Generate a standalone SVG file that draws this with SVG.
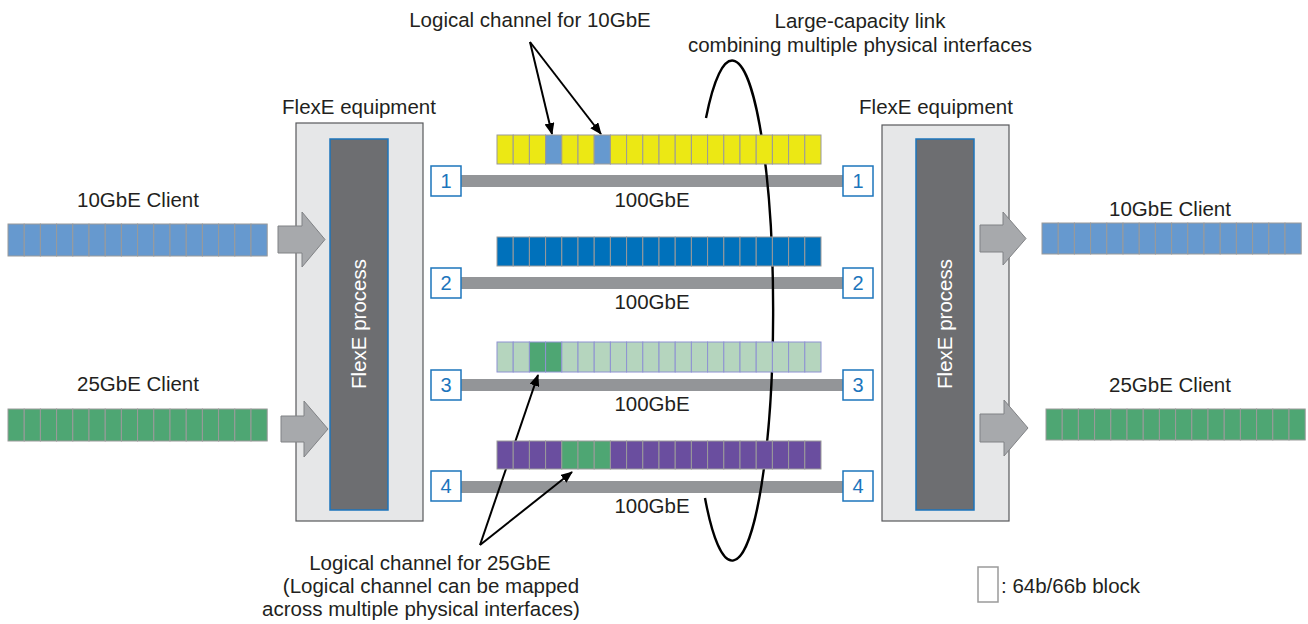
<svg xmlns="http://www.w3.org/2000/svg" width="1308" height="624" viewBox="0 0 1308 624">
<defs>
<style>
text{font-family:"Liberation Sans",Arial,Helvetica,sans-serif;fill:#231f20}
.t19{font-size:20.5px}
.mid{text-anchor:middle}
.eq{fill:#e6e7e8;stroke:#58595b;stroke-width:1.2}
.proc{fill:#6d6e71;stroke:#1c75bc;stroke-width:1.5}
.ptxt{fill:#ffffff;font-size:20.5px;text-anchor:middle}
.port{fill:#ffffff;stroke:#1c75bc;stroke-width:1.5}
.pnum{fill:#1c75bc;font-size:20px;text-anchor:middle}
.link{fill:#939598}
.garrow{fill:#a7a9ac;stroke:#808285;stroke-width:1}
.c rect{stroke:#9a9a9a;stroke-width:1}
.yel{fill:#ece814}
.lb{fill:#6699cf}
.db{fill:#0071bb}
.lg{fill:#b5d5be}
.g3 rect{stroke:#8e92d2}
.dg{fill:#4ea673}
.pu{fill:#6a4e9f}
.ptr{stroke:#000;stroke-width:2;fill:none;marker-end:url(#ah)}
</style>
<marker id="ah" viewBox="0 0 12 10" refX="11" refY="5" markerWidth="12" markerHeight="10" markerUnits="userSpaceOnUse" orient="auto">
<path d="M0,0 L12,5 L0,10 z" fill="#000"/>
</marker>
</defs>
<rect width="1308" height="624" fill="#ffffff"/>

<!-- Left client bars -->
<g id="client10-left" class="c">
<text class="t19 mid" x="138" y="207">10GbE Client</text>
<g class="lb">
<rect x="8" y="224" width="16.2" height="32"/><rect x="24.2" y="224" width="16.2" height="32"/><rect x="40.4" y="224" width="16.2" height="32"/><rect x="56.6" y="224" width="16.2" height="32"/><rect x="72.8" y="224" width="16.2" height="32"/><rect x="89" y="224" width="16.2" height="32"/><rect x="105.2" y="224" width="16.2" height="32"/><rect x="121.4" y="224" width="16.2" height="32"/><rect x="137.6" y="224" width="16.2" height="32"/><rect x="153.8" y="224" width="16.2" height="32"/><rect x="170" y="224" width="16.2" height="32"/><rect x="186.2" y="224" width="16.2" height="32"/><rect x="202.4" y="224" width="16.2" height="32"/><rect x="218.6" y="224" width="16.2" height="32"/><rect x="234.8" y="224" width="16.2" height="32"/><rect x="251" y="224" width="16.2" height="32"/>
</g>
</g>
<g id="client25-left" class="c">
<text class="t19 mid" x="138" y="391">25GbE Client</text>
<g class="dg">
<rect x="8" y="409" width="16.2" height="32"/><rect x="24.2" y="409" width="16.2" height="32"/><rect x="40.4" y="409" width="16.2" height="32"/><rect x="56.6" y="409" width="16.2" height="32"/><rect x="72.8" y="409" width="16.2" height="32"/><rect x="89" y="409" width="16.2" height="32"/><rect x="105.2" y="409" width="16.2" height="32"/><rect x="121.4" y="409" width="16.2" height="32"/><rect x="137.6" y="409" width="16.2" height="32"/><rect x="153.8" y="409" width="16.2" height="32"/><rect x="170" y="409" width="16.2" height="32"/><rect x="186.2" y="409" width="16.2" height="32"/><rect x="202.4" y="409" width="16.2" height="32"/><rect x="218.6" y="409" width="16.2" height="32"/><rect x="234.8" y="409" width="16.2" height="32"/><rect x="251" y="409" width="16.2" height="32"/>
</g>
</g>

<!-- Left equipment -->
<g id="equip-left">
<text class="t19 mid" x="359" y="114">FlexE equipment</text>
<rect class="eq" x="296" y="123" width="127" height="398"/>
<rect class="proc" x="330" y="139" width="58" height="371"/>
<text class="ptxt" transform="translate(366,324) rotate(-90)">FlexE process</text>
<polygon class="garrow" points="278,226 302,226 302,212 325,239.5 302,267 302,253 278,253"/>
<polygon class="garrow" points="281,416 304,416 304,401 328,429 304,457 304,442 281,442"/>
</g>

<!-- Right equipment -->
<g id="equip-right">
<text class="t19 mid" x="936" y="114">FlexE equipment</text>
<rect class="eq" x="882" y="125" width="127" height="396"/>
<rect class="proc" x="916" y="139" width="58" height="371"/>
<text class="ptxt" transform="translate(952,324) rotate(-90)">FlexE process</text>
<polygon class="garrow" points="980,225 1003,225 1003,212 1026,238.5 1003,265 1003,252 980,252"/>
<polygon class="garrow" points="980,414 1004,414 1004,400 1028,428 1004,456 1004,442 980,442"/>
</g>

<!-- Right client bars -->
<g id="client10-right" class="c">
<text class="t19 mid" x="1170" y="216">10GbE Client</text>
<g class="lb">
<rect x="1042" y="223" width="16.2" height="31"/><rect x="1058.2" y="223" width="16.2" height="31"/><rect x="1074.4" y="223" width="16.2" height="31"/><rect x="1090.6" y="223" width="16.2" height="31"/><rect x="1106.8" y="223" width="16.2" height="31"/><rect x="1123" y="223" width="16.2" height="31"/><rect x="1139.2" y="223" width="16.2" height="31"/><rect x="1155.4" y="223" width="16.2" height="31"/><rect x="1171.6" y="223" width="16.2" height="31"/><rect x="1187.8" y="223" width="16.2" height="31"/><rect x="1204" y="223" width="16.2" height="31"/><rect x="1220.2" y="223" width="16.2" height="31"/><rect x="1236.4" y="223" width="16.2" height="31"/><rect x="1252.6" y="223" width="16.2" height="31"/><rect x="1268.8" y="223" width="16.2" height="31"/><rect x="1285" y="223" width="16.2" height="31"/>
</g>
</g>
<g id="client25-right" class="c">
<text class="t19 mid" x="1170" y="392">25GbE Client</text>
<g class="dg">
<rect x="1046" y="409" width="16.2" height="31"/><rect x="1062.2" y="409" width="16.2" height="31"/><rect x="1078.4" y="409" width="16.2" height="31"/><rect x="1094.6" y="409" width="16.2" height="31"/><rect x="1110.8" y="409" width="16.2" height="31"/><rect x="1127" y="409" width="16.2" height="31"/><rect x="1143.2" y="409" width="16.2" height="31"/><rect x="1159.4" y="409" width="16.2" height="31"/><rect x="1175.6" y="409" width="16.2" height="31"/><rect x="1191.8" y="409" width="16.2" height="31"/><rect x="1208" y="409" width="16.2" height="31"/><rect x="1224.2" y="409" width="16.2" height="31"/><rect x="1240.4" y="409" width="16.2" height="31"/><rect x="1256.6" y="409" width="16.2" height="31"/><rect x="1272.8" y="409" width="16.2" height="31"/><rect x="1289" y="409" width="16.2" height="31"/>
</g>
</g>

<!-- Links -->
<g id="connectors">
<rect class="link" x="461" y="175" width="382" height="12"/>
<rect class="link" x="461" y="277" width="382" height="12"/>
<rect class="link" x="461" y="379" width="382" height="12"/>
<rect class="link" x="461" y="481" width="382" height="12"/>
<line class="ptr" x1="530" y1="42" x2="552" y2="134"/>
<line class="ptr" x1="530" y1="42" x2="601" y2="134"/>
<line class="ptr" x1="480" y1="545" x2="538" y2="375"/>
<line class="ptr" x1="480" y1="545" x2="572" y2="472"/>
<path d="M706 118 A41 250 0 1 1 705 498" fill="none" stroke="#000" stroke-width="2.4"/>
</g>

<g id="link-labels">
<text class="t19 mid" x="652" y="207">100GbE</text>
<text class="t19 mid" x="652" y="309">100GbE</text>
<text class="t19 mid" x="652" y="411">100GbE</text>
<text class="t19 mid" x="652" y="513">100GbE</text>
</g>

<!-- Ports -->
<g id="ports-left">
<rect class="port" x="431" y="166" width="30" height="30"/><text class="pnum" x="446" y="188">1</text>
<rect class="port" x="431" y="268" width="30" height="30"/><text class="pnum" x="446" y="290">2</text>
<rect class="port" x="431" y="370" width="30" height="30"/><text class="pnum" x="446" y="392">3</text>
<rect class="port" x="431" y="471" width="30" height="30"/><text class="pnum" x="446" y="493">4</text>
</g>
<g id="ports-right">
<rect class="port" x="843" y="166" width="30" height="30"/><text class="pnum" x="858" y="188">1</text>
<rect class="port" x="843" y="268" width="30" height="30"/><text class="pnum" x="858" y="290">2</text>
<rect class="port" x="843" y="370" width="30" height="30"/><text class="pnum" x="858" y="392">3</text>
<rect class="port" x="843" y="471" width="30" height="30"/><text class="pnum" x="858" y="493">4</text>
</g>

<!-- Stripes -->
<g id="stripe1" class="c">
<g class="yel">
<rect x="497" y="135" width="16.2" height="29"/><rect x="513.2" y="135" width="16.2" height="29"/><rect x="529.4" y="135" width="16.2" height="29"/><rect class="lb" x="545.6" y="135" width="16.2" height="29"/><rect x="561.8" y="135" width="16.2" height="29"/><rect x="578" y="135" width="16.2" height="29"/><rect class="lb" x="594.2" y="135" width="16.2" height="29"/><rect x="610.4" y="135" width="16.2" height="29"/><rect x="626.6" y="135" width="16.2" height="29"/><rect x="642.8" y="135" width="16.2" height="29"/><rect x="659" y="135" width="16.2" height="29"/><rect x="675.2" y="135" width="16.2" height="29"/><rect x="691.4" y="135" width="16.2" height="29"/><rect x="707.6" y="135" width="16.2" height="29"/><rect x="723.8" y="135" width="16.2" height="29"/><rect x="740" y="135" width="16.2" height="29"/><rect x="756.2" y="135" width="16.2" height="29"/><rect x="772.4" y="135" width="16.2" height="29"/><rect x="788.6" y="135" width="16.2" height="29"/><rect x="804.8" y="135" width="16.2" height="29"/>
</g>
</g>
<g id="stripe2" class="c">
<g class="db">
<rect x="497" y="237" width="16.2" height="29"/><rect x="513.2" y="237" width="16.2" height="29"/><rect x="529.4" y="237" width="16.2" height="29"/><rect x="545.6" y="237" width="16.2" height="29"/><rect x="561.8" y="237" width="16.2" height="29"/><rect x="578" y="237" width="16.2" height="29"/><rect x="594.2" y="237" width="16.2" height="29"/><rect x="610.4" y="237" width="16.2" height="29"/><rect x="626.6" y="237" width="16.2" height="29"/><rect x="642.8" y="237" width="16.2" height="29"/><rect x="659" y="237" width="16.2" height="29"/><rect x="675.2" y="237" width="16.2" height="29"/><rect x="691.4" y="237" width="16.2" height="29"/><rect x="707.6" y="237" width="16.2" height="29"/><rect x="723.8" y="237" width="16.2" height="29"/><rect x="740" y="237" width="16.2" height="29"/><rect x="756.2" y="237" width="16.2" height="29"/><rect x="772.4" y="237" width="16.2" height="29"/><rect x="788.6" y="237" width="16.2" height="29"/><rect x="804.8" y="237" width="16.2" height="29"/>
</g>
</g>
<g id="stripe3" class="c g3">
<g class="lg">
<rect x="497" y="342" width="16.2" height="30"/><rect x="513.2" y="342" width="16.2" height="30"/><rect class="dg" x="529.4" y="342" width="16.2" height="30"/><rect class="dg" x="545.6" y="342" width="16.2" height="30"/><rect x="561.8" y="342" width="16.2" height="30"/><rect x="578" y="342" width="16.2" height="30"/><rect x="594.2" y="342" width="16.2" height="30"/><rect x="610.4" y="342" width="16.2" height="30"/><rect x="626.6" y="342" width="16.2" height="30"/><rect x="642.8" y="342" width="16.2" height="30"/><rect x="659" y="342" width="16.2" height="30"/><rect x="675.2" y="342" width="16.2" height="30"/><rect x="691.4" y="342" width="16.2" height="30"/><rect x="707.6" y="342" width="16.2" height="30"/><rect x="723.8" y="342" width="16.2" height="30"/><rect x="740" y="342" width="16.2" height="30"/><rect x="756.2" y="342" width="16.2" height="30"/><rect x="772.4" y="342" width="16.2" height="30"/><rect x="788.6" y="342" width="16.2" height="30"/><rect x="804.8" y="342" width="16.2" height="30"/>
</g>
</g>
<g id="stripe4" class="c">
<g class="pu">
<rect x="497" y="441" width="16.2" height="28"/><rect x="513.2" y="441" width="16.2" height="28"/><rect x="529.4" y="441" width="16.2" height="28"/><rect x="545.6" y="441" width="16.2" height="28"/><rect class="dg" x="561.8" y="441" width="16.2" height="28"/><rect class="dg" x="578" y="441" width="16.2" height="28"/><rect class="dg" x="594.2" y="441" width="16.2" height="28"/><rect x="610.4" y="441" width="16.2" height="28"/><rect x="626.6" y="441" width="16.2" height="28"/><rect x="642.8" y="441" width="16.2" height="28"/><rect x="659" y="441" width="16.2" height="28"/><rect x="675.2" y="441" width="16.2" height="28"/><rect x="691.4" y="441" width="16.2" height="28"/><rect x="707.6" y="441" width="16.2" height="28"/><rect x="723.8" y="441" width="16.2" height="28"/><rect x="740" y="441" width="16.2" height="28"/><rect x="756.2" y="441" width="16.2" height="28"/><rect x="772.4" y="441" width="16.2" height="28"/><rect x="788.6" y="441" width="16.2" height="28"/><rect x="804.8" y="441" width="16.2" height="28"/>
</g>
</g>

<!-- Annotations -->
<g id="label-10gbe-channel">
<text class="t19 mid" x="530" y="27">Logical channel for 10GbE</text>
</g>
<g id="label-large-link">
<text class="t19 mid" x="860" y="28">Large-capacity link</text>
<text class="t19 mid" x="860" y="52">combining multiple physical interfaces</text>
</g>
<g id="label-25gbe-channel">
<text class="t19 mid" x="430" y="570">Logical channel for 25GbE</text>
<text class="t19 mid" x="431" y="593">(Logical channel can be mapped</text>
<text class="t19 mid" x="421" y="616">across multiple physical interfaces)</text>
</g>
<g id="legend">
<rect x="978" y="567" width="20" height="35" fill="#ffffff" stroke="#9a9a9a" stroke-width="1.5"/>
<text class="t19" x="1001" y="593">: 64b/66b block</text>
</g>
</svg>
